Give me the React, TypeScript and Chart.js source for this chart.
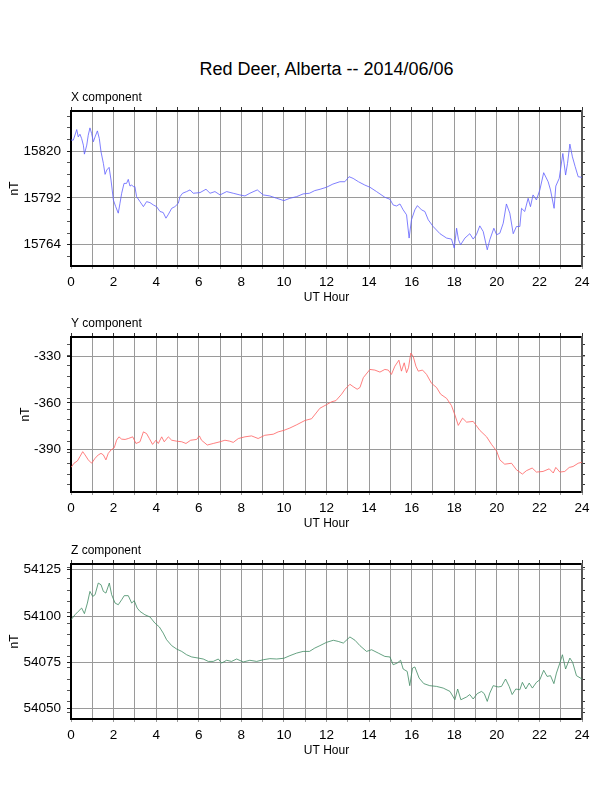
import { useEffect, useRef } from "react";
import { Chart, registerables } from "chart.js";

Chart.register(...registerables);
Chart.defaults.font.family = '"Liberation Sans", Arial, Helvetica, sans-serif';
Chart.defaults.color = "#000";

// hour ticks along the bottom/top (labels only on even hours)
const hourTicks = [0, 1, 2, 3, 4, 5, 6, 7, 8, 9, 10, 11, 12, 13, 14, 15, 16, 17, 18, 19, 20, 21, 22, 23, 24];

// X component (nT)
const xHours = [
  0, 0.11, 0.27, 0.34, 0.42, 0.5, 0.58, 0.63, 0.74, 0.81,
  0.89, 0.97, 1.05, 1.13, 1.24, 1.33, 1.41, 1.52, 1.6, 1.68,
  1.79, 1.88, 1.99, 2.1, 2.22, 2.3, 2.38, 2.49, 2.61, 2.69,
  2.77, 2.85, 2.93, 3.0, 3.08, 3.24, 3.4, 3.55, 3.71, 3.87,
  4.02, 4.18, 4.33, 4.46, 4.56, 4.73, 4.88, 5.04, 5.12, 5.24,
  5.43, 5.59, 5.74, 6.06, 6.34, 6.53, 6.76, 7.0, 7.31, 7.62,
  7.93, 8.17, 8.4, 8.75, 9.03, 9.34, 9.66, 10.0, 10.28, 10.6,
  10.9, 11.2, 11.45, 11.7, 12.0, 12.3, 12.63, 12.86, 13.06, 13.25,
  13.5, 13.8, 14.04, 14.35, 14.74, 14.98, 15.13, 15.29, 15.45, 15.6,
  15.76, 15.88, 15.99, 16.15, 16.27, 16.46, 16.62, 16.78, 17.01, 17.33,
  17.64, 17.87, 18.0, 18.11, 18.2, 18.3, 18.5, 18.73, 18.89, 19.04,
  19.2, 19.36, 19.55, 19.67, 19.86, 19.99, 20.14, 20.3, 20.45, 20.61,
  20.77, 20.92, 21.08, 21.16, 21.31, 21.47, 21.58, 21.7, 21.86, 22.02,
  22.2, 22.41, 22.52, 22.69, 22.77, 22.93, 23.1, 23.23, 23.32, 23.43,
  23.55, 23.68, 23.82, 24.0,
];
const xValues = [
  15826.6, 15826.6, 15832.9, 15828.5, 15830.1, 15827.5, 15823.6, 15818.2, 15823.6, 15829.5,
  15833.9, 15830.5, 15825.6, 15828.5, 15832.1, 15827.5, 15819.6, 15812.7, 15806.1, 15808.7,
  15810.3, 15802.7, 15790.8, 15786.8, 15782.9, 15788.8, 15794.8, 15800.7, 15800.7, 15803.1,
  15799.1, 15799.7, 15798.8, 15798.8, 15792.8, 15789.8, 15786.8, 15789.8, 15789.2, 15787.8,
  15786.8, 15783.9, 15783.3, 15779.9, 15781.9, 15785.8, 15786.8, 15788.8, 15792.8, 15794.8,
  15795.8, 15796.8, 15794.8, 15795.2, 15797.2, 15794.8, 15795.8, 15793.8, 15795.8, 15794.8,
  15793.8, 15793.2, 15794.8, 15796.8, 15793.8, 15793.2, 15791.8, 15790.4, 15791.8, 15792.8,
  15794.4, 15794.8, 15796.4, 15797.2, 15798.4, 15800.3, 15801.7, 15801.7, 15804.7, 15803.7,
  15801.7, 15799.7, 15798.4, 15795.8, 15792.4, 15791.2, 15787.8, 15787.2, 15788.4, 15784.9,
  15781.9, 15768.0, 15778.9, 15784.9, 15787.4, 15784.9, 15783.9, 15778.9, 15774.9, 15770.6,
  15768.0, 15767.4, 15762.0, 15773.9, 15767.0, 15764.0, 15768.0, 15770.6, 15767.4, 15770.0,
  15775.3, 15771.9, 15761.0, 15767.0, 15773.9, 15770.0, 15770.9, 15776.9, 15788.4, 15782.9,
  15770.6, 15774.9, 15774.9, 15785.8, 15783.9, 15791.8, 15786.8, 15793.8, 15790.8, 15796.8,
  15807.1, 15801.7, 15796.8, 15785.8, 15799.1, 15803.7, 15818.6, 15805.7, 15812.7, 15824.2,
  15816.6, 15810.7, 15804.7, 15804.3,
];
const xMajorTicks = [15764, 15792, 15820];
const xMinorTicks = [15757, 15771, 15778, 15785, 15799, 15806, 15813, 15827, 15834, 15841];

// Y component (nT)
const yHours = [
  0, 0.14, 0.3, 0.42, 0.55, 0.66, 0.81, 0.97, 1.13, 1.28,
  1.41, 1.52, 1.64, 1.75, 1.88, 2.03, 2.14, 2.25, 2.38, 2.54,
  2.69, 2.9, 3.05, 3.24, 3.4, 3.55, 3.68, 3.83, 3.99, 4.1,
  4.26, 4.38, 4.57, 4.73, 4.96, 5.2, 5.4, 5.62, 5.9, 6.03,
  6.13, 6.4, 6.68, 7.0, 7.23, 7.46, 7.62, 7.86, 8.17, 8.48,
  8.79, 9.1, 9.5, 9.73, 10.0, 10.28, 10.6, 10.99, 11.3,
  11.69, 12.0, 12.24, 12.44, 12.71, 12.87, 13.1, 13.25, 13.44, 13.57,
  13.73, 14.04, 14.27, 14.51, 14.74, 14.9, 15.05, 15.21, 15.4, 15.52,
  15.65, 15.76, 15.85, 15.96, 16.07, 16.2, 16.31, 16.51, 16.7, 16.93,
  17.17, 17.36, 17.64, 17.87, 18.03, 18.19, 18.39, 18.58, 18.89, 19.2,
  19.52, 19.75, 19.99, 20.14, 20.37, 20.69, 20.92, 21.2, 21.39, 21.66,
  21.86, 22.17, 22.46, 22.65, 22.77, 22.96, 23.19, 23.4, 23.58, 23.82,
  24.0,
];
const yValues = [
  -401.7, -399.0, -397.5, -394.7, -391.5, -393.6, -396.8, -399.0, -395.8, -393.6,
  -392.6, -393.6, -396.8, -392.6, -390.4, -389.0, -384.1, -381.9, -383.4, -383.6,
  -383.0, -381.9, -386.2, -385.1, -378.7, -379.8, -383.0, -386.8, -384.1, -386.2,
  -381.9, -385.1, -381.9, -384.1, -384.7, -385.1, -386.2, -384.1, -383.6, -381.3,
  -384.1, -387.2, -386.2, -385.1, -384.1, -384.7, -385.5, -383.0, -381.9, -381.3,
  -383.0, -380.9, -380.2, -378.7, -377.7, -376.2, -374.1, -371.3, -370.2,
  -363.4, -361.1, -359.2, -358.5, -354.3, -351.1, -347.9, -349.4, -351.1, -350.0,
  -343.6, -338.3, -338.7, -340.0, -338.3, -338.7, -341.5, -336.2, -332.3, -339.4,
  -334.0, -340.4, -337.2, -327.7, -329.8, -336.2, -339.4, -338.7, -341.5, -347.2,
  -350.0, -354.3, -357.0, -361.7, -367.7, -374.5, -369.8, -372.4, -371.9, -377.7,
  -381.9, -386.8, -391.1, -396.8, -399.6, -399.0, -403.2, -406.0, -403.8, -402.1,
  -404.7, -404.3, -402.6, -405.3, -401.7, -404.7, -404.3, -401.7, -401.1, -399.0,
  -398.3,
];
const yMajorTicks = [-390, -360, -330];
const yMinorTicks = [-413, -406, -399, -392, -385, -378, -371, -364, -357, -350, -343, -336, -329, -322];

// Z component (nT)
const zHours = [
  0, 0.19, 0.34, 0.5, 0.63, 0.77, 0.89, 1.02, 1.13, 1.28,
  1.41, 1.52, 1.64, 1.8, 1.91, 2.07, 2.22, 2.38, 2.5, 2.69,
  2.85, 2.97, 3.11, 3.24, 3.47, 3.71, 3.94, 4.15, 4.33, 4.49,
  4.73, 4.96, 5.2, 5.43, 5.67, 5.98, 6.21, 6.45, 6.68, 6.92,
  7.07, 7.31, 7.54, 7.78, 8.09, 8.4, 8.72, 9.03, 9.34, 9.66,
  10.0, 10.28, 10.6, 10.9, 11.2, 11.45, 11.69,
  12.0, 12.32, 12.55, 12.79, 13.1, 13.34, 13.57, 13.88, 14.12, 14.43,
  14.74, 14.98, 15.13, 15.32, 15.48, 15.6, 15.79, 15.91, 16.04, 16.15,
  16.35, 16.57, 16.85, 17.17, 17.48, 17.8, 18.03, 18.16, 18.31, 18.58,
  18.73, 18.89, 19.08, 19.28, 19.41, 19.55, 19.67, 19.83, 20.06, 20.22,
  20.41, 20.58, 20.72, 20.89, 21.08, 21.2, 21.36, 21.52, 21.67, 21.86,
  22.02, 22.2, 22.36, 22.52, 22.68, 22.8, 22.96, 23.08, 23.23, 23.43,
  23.56, 23.74, 24.0,
];
const zValues = [
  54098.0, 54100.7, 54102.5, 54104.3, 54101.3, 54107.0, 54113.3, 54110.6, 54111.5, 54117.8,
  54116.9, 54113.3, 54112.4, 54117.8, 54111.5, 54107.0, 54106.1, 54108.8, 54111.0, 54111.0,
  54107.0, 54108.3, 54104.3, 54102.5, 54100.7, 54099.5, 54096.2, 54094.1, 54090.8, 54087.2,
  54084.0, 54082.2, 54080.9, 54079.1, 54077.9, 54077.3, 54076.8, 54075.5, 54075.5, 54076.8,
  54074.6, 54076.1, 54075.5, 54076.8, 54075.2, 54076.1, 54075.5, 54076.4, 54077.0, 54076.8,
  54077.2, 54078.6, 54080.0, 54080.9, 54080.9, 54082.7, 54084.0,
  54085.8, 54086.9, 54086.3, 54085.4, 54088.7, 54086.9, 54084.0, 54080.9, 54081.8, 54080.0,
  54078.2, 54077.9, 54073.7, 54074.6, 54076.1, 54071.4, 54070.1, 54062.4, 54071.9, 54072.5,
  54066.5, 54063.5, 54062.4, 54062.0, 54061.1, 54059.3, 54054.8, 54060.6, 54054.8, 54056.3,
  54057.6, 54055.2, 54058.1, 54059.3, 54058.1, 54053.9, 54058.4, 54062.4, 54061.7, 54062.0,
  54066.0, 54062.0, 54057.6, 54060.6, 54060.2, 54064.2, 54060.6, 54063.8, 54061.1, 54064.2,
  54065.6, 54070.7, 54067.4, 54067.8, 54063.5, 54069.2, 54074.6, 54079.1, 54071.4, 54077.3,
  54075.0, 54067.8, 54066.0,
];
const zMajorTicks = [54050, 54075, 54100, 54125];
const zMinorTicks = [54048, 54054, 54060, 54066, 54072, 54078, 54084, 54090, 54096, 54102, 54108, 54114, 54120, 54126];

const GRID = "#9a9a9a";
const CANVAS_W = 612;
const CANVAS_H = 230;

type PanelProps = {
  label: string;
  hours: number[];
  values: number[];
  color: string;
  min: number;
  max: number;
  majorTicks: number[];
  minorTicks: number[];
  unitPad: number;
  top: number;
};

function Panel(props: PanelProps) {
  const { label, hours, values, color, min, max, majorTicks, minorTicks, unitPad, top } = props;
  const canvasRef = useRef<HTMLCanvasElement | null>(null);

  useEffect(() => {
    if (!canvasRef.current) return;

    const n = Math.min(hours.length, values.length);
    const points = hours.slice(0, n).map((h, i) => ({ x: h, y: values[i] }));
    const yTicks = Array.from(new Set([...majorTicks, ...minorTicks])).sort((a, b) => a - b);
    const isMajor = (v: any) => majorTicks.includes(Number(v));

    const chart = new Chart(canvasRef.current, {
      type: "line",
      data: {
        datasets: [
          {
            data: points,
            borderColor: color,
            borderWidth: 0.8,
            pointRadius: 0,
            fill: false,
            tension: 0,
          },
        ],
      },
      options: {
        animation: false,
        responsive: false,
        events: [],
        layout: { padding: { top: 9.6, left: 0, right: 0, bottom: 0 } },
        plugins: {
          legend: { display: false },
          tooltip: { enabled: false },
          title: {
            display: true,
            text: label,
            align: "start",
            fullSize: false,
            color: "#000",
            font: { size: 12, weight: "normal" },
            padding: { top: 0, bottom: 1 },
          },
        },
        scales: {
          x: {
            type: "linear",
            position: "bottom",
            min: 0,
            max: 24,
            afterBuildTicks: (axis: any) => {
              axis.ticks = hourTicks.map((v) => ({ value: v }));
            },
            afterFit: (axis: any) => {
              axis.height = 45;
            },
            ticks: {
              autoSkip: false,
              maxRotation: 0,
              padding: 5,
              font: { size: 13.5 },
              callback: (v: any) => (Number(v) % 2 === 0 ? String(v) : ""),
            },
            grid: { color: GRID, lineWidth: 1, tickLength: 3, tickColor: GRID },
            border: { display: true, color: "#000", width: 2 },
            title: {
              display: true,
              text: "UT Hour",
              font: { size: 12 },
              padding: { top: 0, bottom: 6 },
            },
          },
          xTop: {
            type: "linear",
            position: "top",
            min: 0,
            max: 24,
            afterBuildTicks: (axis: any) => {
              axis.ticks = hourTicks.map((v) => ({ value: v }));
            },
            afterFit: (axis: any) => {
              axis.height = 5;
            },
            ticks: { display: false },
            grid: { drawOnChartArea: false, tickLength: 4, tickColor: "#333" },
            border: { display: true, color: "#000", width: 2 },
          },
          y: {
            type: "linear",
            position: "left",
            min,
            max,
            afterBuildTicks: (axis: any) => {
              axis.ticks = yTicks.map((v) => ({ value: v }));
            },
            afterFit: (axis: any) => {
              axis.width = 71;
            },
            ticks: {
              autoSkip: false,
              padding: 6,
              font: { size: 13.5 },
              callback: (v: any) => (isMajor(v) ? String(v) : ""),
            },
            grid: {
              color: (c: any) => (isMajor(c.tick?.value) ? GRID : "rgba(0,0,0,0)"),
              lineWidth: 1,
              tickLength: 4,
              tickColor: (c: any) => (isMajor(c.tick?.value) ? "#222" : "#555"),
            },
            border: { display: true, color: "#000", width: 2 },
            title: {
              display: true,
              text: "nT",
              font: { size: 12 },
              padding: { top: unitPad, bottom: 0 },
            },
          },
          yRight: {
            type: "linear",
            position: "right",
            min,
            max,
            afterBuildTicks: (axis: any) => {
              axis.ticks = yTicks.map((v) => ({ value: v }));
            },
            afterFit: (axis: any) => {
              axis.width = 30;
            },
            ticks: { display: false },
            grid: {
              drawOnChartArea: false,
              tickLength: 3,
              tickColor: (c: any) => (isMajor(c.tick?.value) ? "#aaa" : "#333"),
            },
            border: { display: true, color: "#555", width: 2 },
          },
        },
      } as any,
    });

    return () => chart.destroy();
  }, [label, hours, values, color, min, max, majorTicks, minorTicks, unitPad]);

  return (
    <canvas
      ref={canvasRef}
      width={CANVAS_W}
      height={CANVAS_H}
      style={{ position: "absolute", left: 0, top, width: CANVAS_W, height: CANVAS_H }}
    />
  );
}

export default function App() {
  return (
    <div style={{ position: "absolute", left: 0, top: 0, width: 612, height: 792, background: "#fff" }}>
      <div
        style={{
          position: "absolute",
          left: 71,
          width: 511,
          top: 60,
          textAlign: "center",
          fontFamily: '"Liberation Sans", Arial, Helvetica, sans-serif',
          fontSize: 18,
          lineHeight: "18px",
          color: "#000",
        }}
      >
        Red Deer, Alberta -- 2014/06/06
      </div>
      <Panel
        label="X component"
        hours={xHours}
        values={xValues}
        color="#5f5fff"
        min={15751.3}
        max={15844}
        majorTicks={xMajorTicks}
        minorTicks={xMinorTicks}
        unitPad={7}
        top={81}
      />
      <Panel
        label="Y component"
        hours={yHours}
        values={yValues}
        color="#ff5f5f"
        min={-417.6}
        max={-317.3}
        majorTicks={yMajorTicks}
        minorTicks={yMinorTicks}
        unitPad={18}
        top={307}
      />
      <Panel
        label="Z component"
        hours={zHours}
        values={zValues}
        color="#3f8a62"
        min={54044.4}
        max={54128.1}
        majorTicks={zMajorTicks}
        minorTicks={zMinorTicks}
        unitPad={7}
        top={534}
      />
    </div>
  );
}
